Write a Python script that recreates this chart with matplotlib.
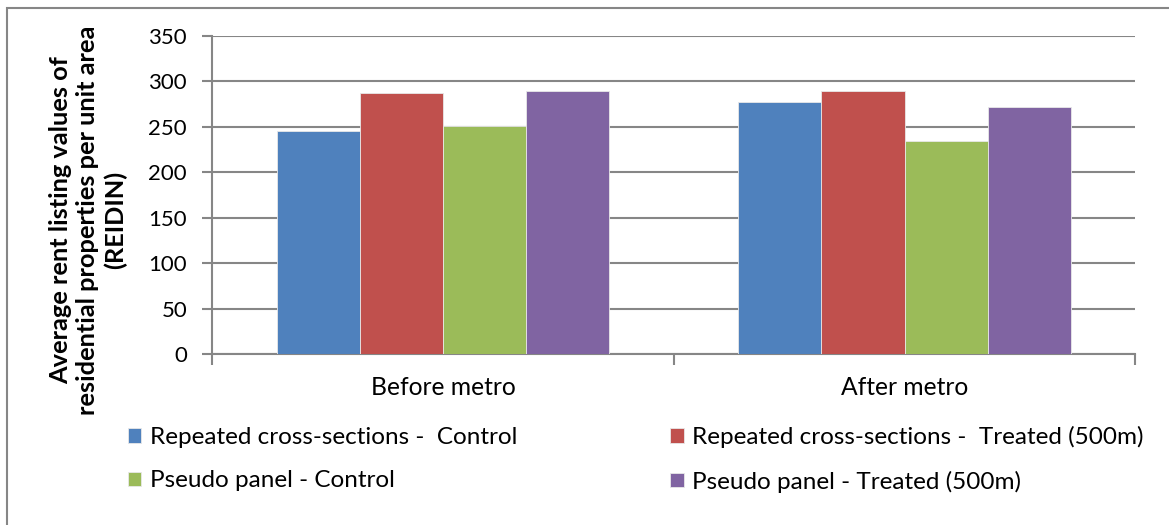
import matplotlib.pyplot as plt
from matplotlib.patches import Rectangle
import numpy as np

plt.rcParams['font.family'] = ['Lato', 'DejaVu Sans']

periodos = ['Before metro', 'After metro']
series = ['Repeated cross-sections -  Control',
          'Repeated cross-sections -  Treated (500m)',
          'Pseudo panel - Control',
          'Pseudo panel - Treated (500m)']
rc_controle = [245, 277]
rc_tratado = [287, 290]
pp_controle = [251, 234]
pp_tratado = [289, 272]
cores = ['#4F81BD', '#C0504D', '#9BBB59', '#8064A2']

valores = [rc_controle, rc_tratado, pp_controle, pp_tratado]

fig = plt.figure(figsize=(11.69, 5.25), dpi=100)
ax = fig.add_axes([0.1814, 0.3257, 0.7899, 0.6057])

x = np.arange(len(periodos))
largura = 0.18
barras = []
for i, (vals, nome, cor) in enumerate(zip(valores, series, cores)):
    b = ax.bar(x + (i - 1.5) * largura, vals, largura, color=cor, label=nome,
               edgecolor='#e8e8e8', linewidth=0.6, zorder=3)
    barras.append(b)

ax.set_xlim(-0.5, 1.5)
ax.set_ylim(0, 350)
ax.set_yticks(range(0, 351, 50))
ax.yaxis.grid(True, color='#868686', linewidth=1.5, zorder=0)
ax.set_axisbelow(True)

# categorias no meio, ticks nas divisas
ax.set_xticks([-0.5, 0.5, 1.5])
ax.set_xticklabels([])
ax.set_xticks(x, minor=True)
ax.set_xticklabels(periodos, minor=True, fontsize=17.7)
ax.tick_params(axis='x', which='minor', length=0, pad=16)
ax.tick_params(axis='x', which='major', length=8, width=1.5, color='#868686')
ax.tick_params(axis='y', length=7, width=1.5, color='#868686', labelsize=16, pad=11)

for lado in ['top', 'right']:
    ax.spines[lado].set_visible(False)
for lado in ['left', 'bottom']:
    ax.spines[lado].set_color('#868686')
    ax.spines[lado].set_linewidth(1.5)

fig.text(88 / 1169, 1 - 220 / 525,
         'Average rent listing values of\nresidential properties per unit area\n(REIDIN)',
         rotation=90, ha='center', va='center', fontsize=18.3, fontweight='bold',
         linespacing=1.22)

# legenda por linhas: azul/vermelho em cima, verde/roxo embaixo
ordem = [0, 2, 1, 3]
fig.legend([barras[i] for i in ordem], [series[i] for i in ordem],
           loc='upper left', bbox_to_anchor=(128 / 1169, 1 - 426 / 525), ncol=2,
           frameon=False, fontsize=17.5, handlelength=0.55, handleheight=0.55,
           handletextpad=0.35, columnspacing=6.3, labelspacing=0.92,
           borderaxespad=0, borderpad=0)

# moldura externa
fig.patches.append(Rectangle((7 / 1169, -0.1), 1.2, 1 - 8 / 525 + 0.1,
                             transform=fig.transFigure, fill=False,
                             edgecolor='#868686', linewidth=1.5))

fig.savefig('out.png', dpi=100)
